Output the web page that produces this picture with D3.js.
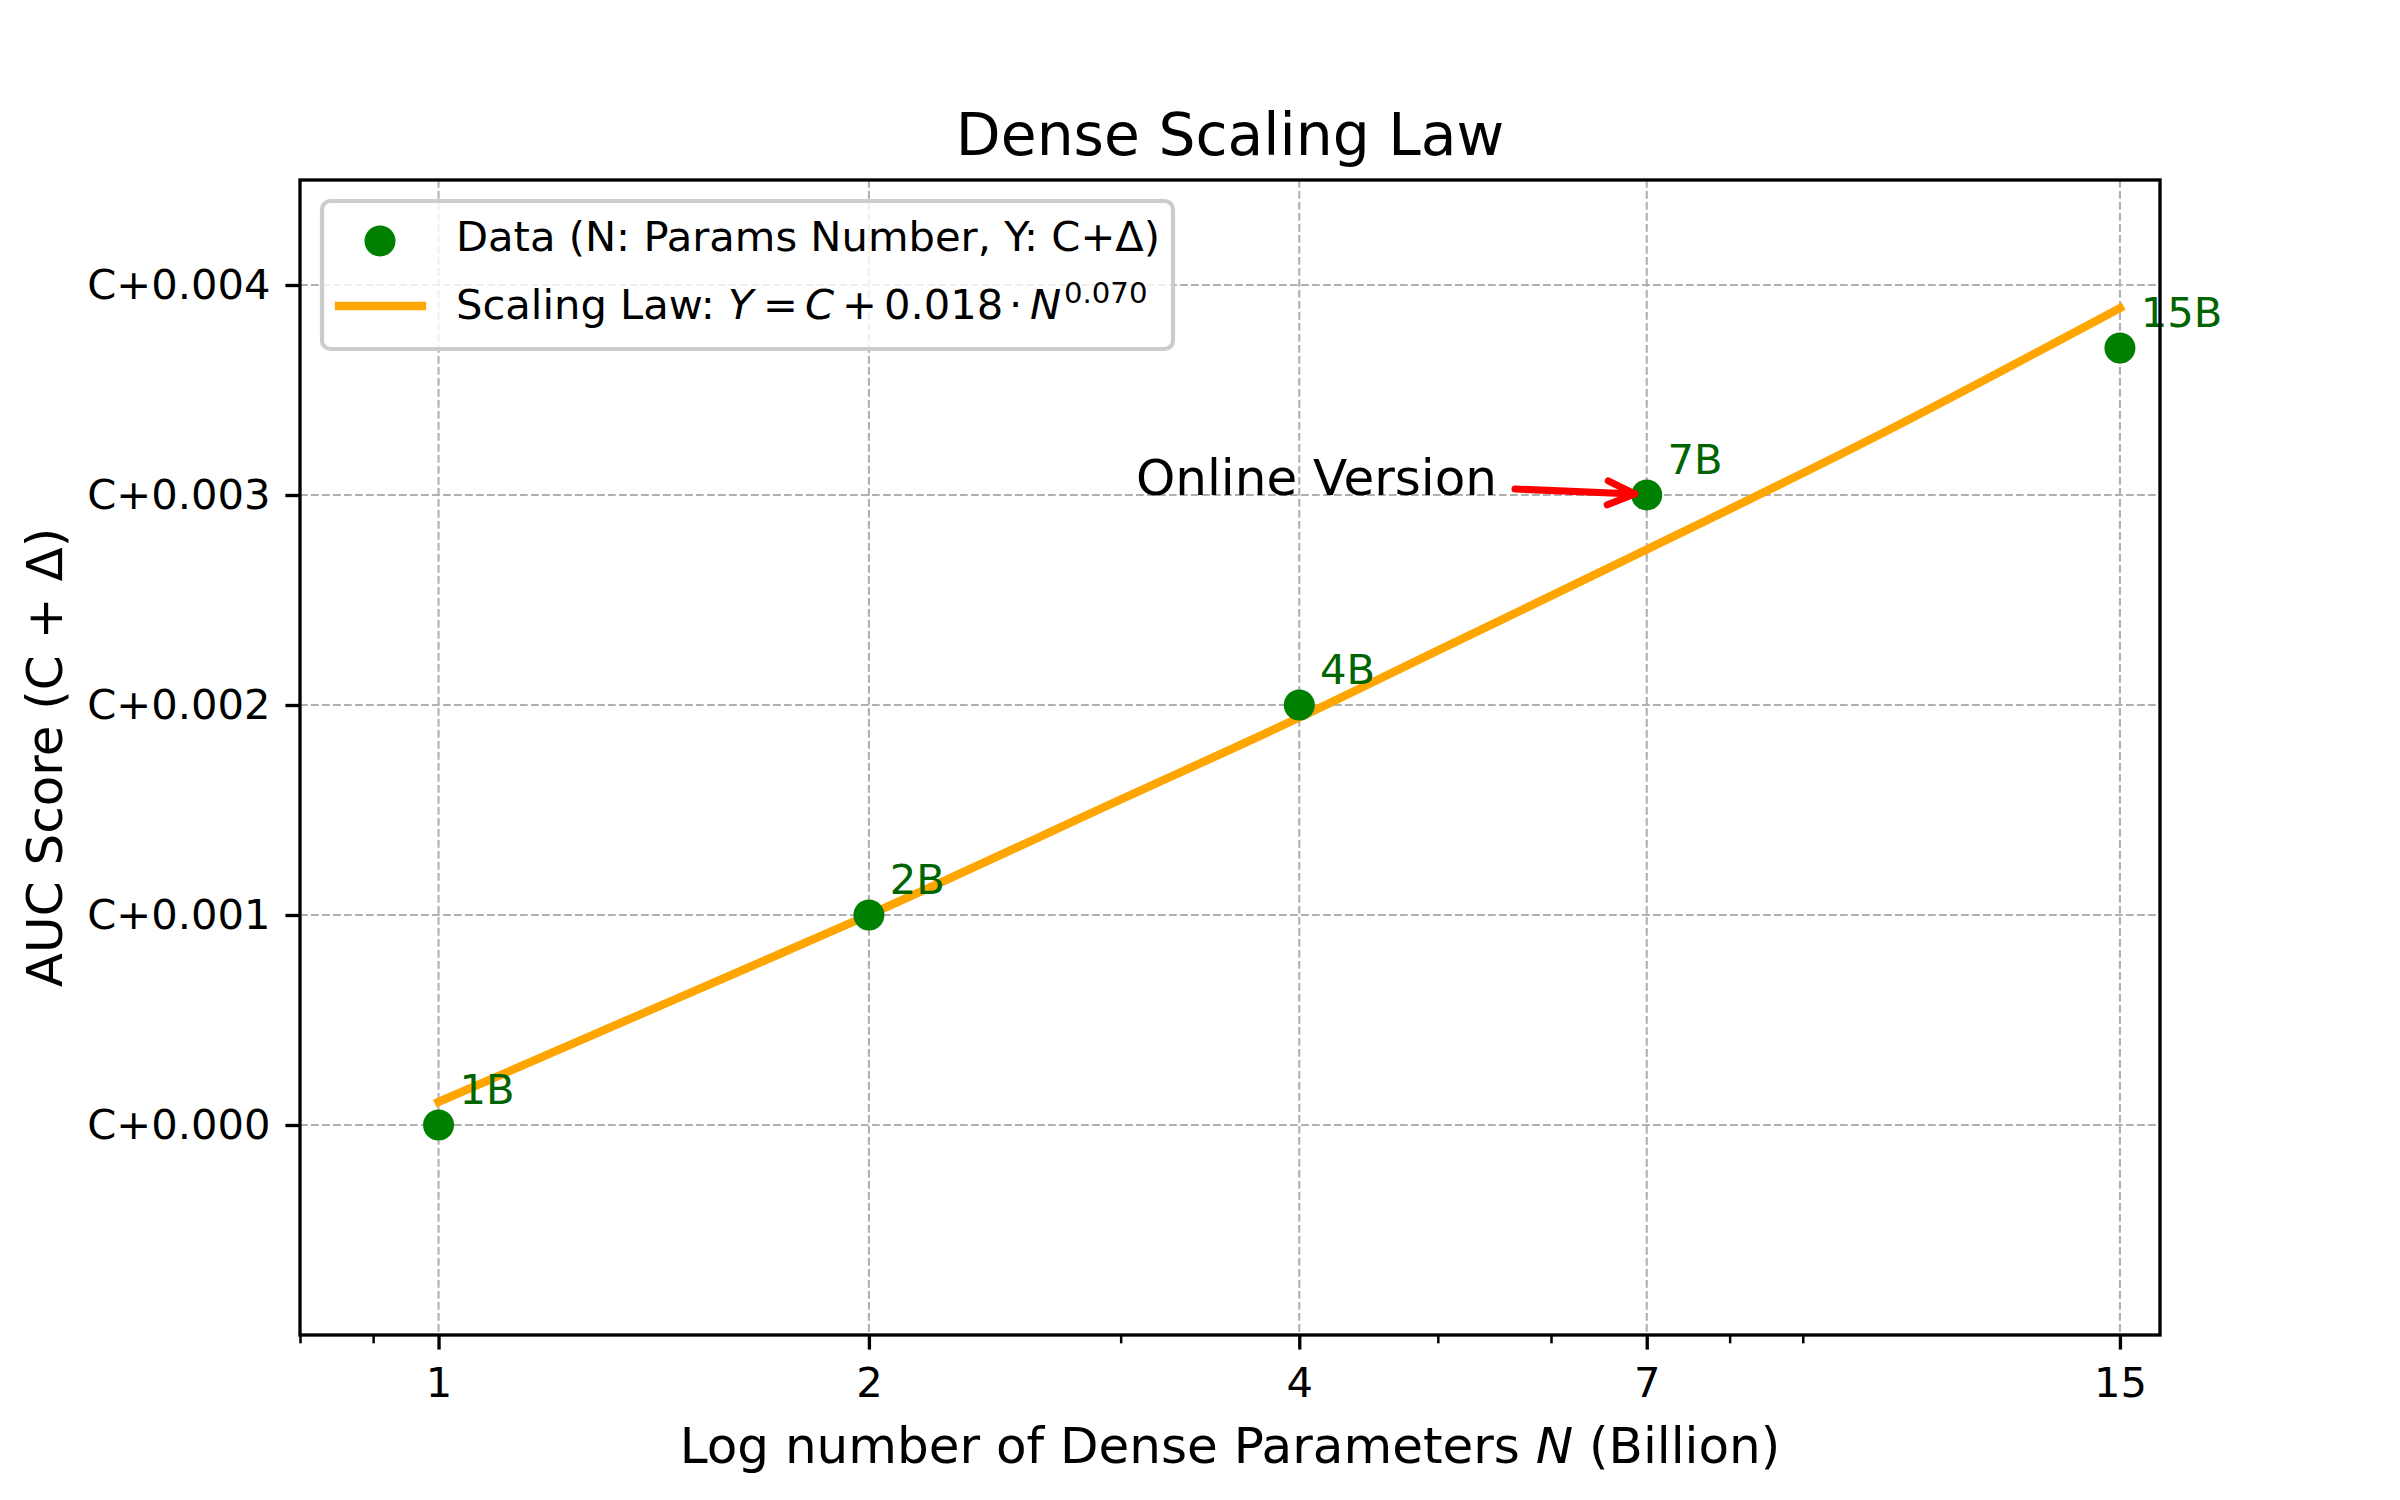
<!DOCTYPE html>
<html lang="en">
<head>
<meta charset="UTF-8"/>
<title>Dense Scaling Law</title>
<script src="https://d3js.org/d3.v7.min.js"></script>
<style>
  body { margin: 0; background: #fff; }
  text { font-family: "DejaVu Sans", sans-serif; }
</style>
</head>
<body>
<script>
// data
var paramsB = [1, 2, 4, 7, 15];
var deltaAUC = [0.0, 0.001, 0.002, 0.003, 0.0037];
var pointLabels = ["1B", "2B", "4B", "7B", "15B"];

// fitted scaling-law curve
var fitN = [1, 1.5, 2, 3, 4, 5, 7, 10, 15];
var fitDelta = [0.00011, 0.00063, 0.00100, 0.00155, 0.00194, 0.00226, 0.00274, 0.00326, 0.00389];

var xTicks = [1, 2, 4, 7, 15];
var xMinorTicks = [0.8, 0.9, 3, 5, 6, 8, 9];
var yTicks = [0, 0.001, 0.002, 0.003, 0.004];
var yTickLabels = ["C+0.000", "C+0.001", "C+0.002", "C+0.003", "C+0.004"];

var onlineNote = {text: "Online Version", n: 5.5, value: 0.003, targetN: 7, targetValue: 0.003};

var w = 2400, h = 1500;
var plotL = 300, plotR = 2160, plotT = 180, plotB = 1335;
var pt = 300 / 72;   // pixels per point

var xScale = d3.scaleLog().domain([0.8, 16]).range([plotL, plotR]);
var yScale = d3.scaleLinear().domain([-0.001, 0.0045]).range([plotB, plotT]);

var svg = d3.select("body").append("svg")
    .attr("width", w)
    .attr("height", h);

svg.append("rect").attr("width", w).attr("height", h).attr("fill", "#fff");

/* grid */
var grid = svg.append("g")
    .attr("stroke", "#b0b0b0")
    .attr("stroke-width", 2.1)
    .attr("stroke-dasharray", "7.7,3.3");

grid.selectAll(".gx")
    .data(xTicks)
    .enter().append("line")
    .attr("x1", d => xScale(d)).attr("x2", d => xScale(d))
    .attr("y1", plotT).attr("y2", plotB);

grid.selectAll(".gy")
    .data(yTicks)
    .enter().append("line")
    .attr("x1", plotL).attr("x2", plotR)
    .attr("y1", d => yScale(d)).attr("y2", d => yScale(d));

/* fitted line */
var fitLine = d3.line()
    .x(d => xScale(d))
    .y((d, i) => yScale(fitDelta[i]))
    .curve(d3.curveMonotoneX);

svg.append("path")
    .datum(fitN)
    .attr("d", fitLine)
    .attr("fill", "none")
    .attr("stroke", "#ffa500")
    .attr("stroke-width", 8.3)
    .attr("stroke-linecap", "square");

/* scatter points */
svg.selectAll("circle.pt")
    .data(paramsB)
    .enter().append("circle")
    .attr("class", "pt")
    .attr("cx", d => xScale(d))
    .attr("cy", (d, i) => yScale(deltaAUC[i]))
    .attr("r", 15.5)
    .attr("fill", "#008000");

/* point labels */
svg.selectAll("text.plab")
    .data(paramsB)
    .enter().append("text")
    .attr("class", "plab")
    .attr("x", d => xScale(d) + 5 * pt)
    .attr("y", (d, i) => yScale(deltaAUC[i]) - 5 * pt)
    .attr("font-size", 10 * pt)
    .attr("fill", "#006400")
    .text((d, i) => pointLabels[i]);

/* online version annotation */
var noteX = xScale(onlineNote.n), noteY = yScale(onlineNote.value);
svg.append("text")
    .attr("x", noteX)
    .attr("y", noteY)
    .attr("text-anchor", "end")
    .attr("font-size", 12 * pt)
    .attr("fill", "#000")
    .text(onlineNote.text);

var ax0 = noteX + 18, ay0 = noteY - 6;
var ax1 = xScale(onlineNote.targetN) - 12, ay1 = yScale(onlineNote.targetValue) - 1;
var ang = Math.atan2(ay1 - ay0, ax1 - ax0);
var headLen = 27, headW = 12;
var arrow = svg.append("g")
    .attr("stroke", "#ff0000")
    .attr("stroke-width", 7)
    .attr("stroke-linecap", "round")
    .attr("stroke-linejoin", "round")
    .attr("fill", "none");
arrow.append("line")
    .attr("x1", ax0).attr("y1", ay0)
    .attr("x2", ax1).attr("y2", ay1);
arrow.append("path")
    .attr("d",
        "M" + (ax1 - headLen * Math.cos(ang) + headW * Math.sin(ang)) + "," + (ay1 - headLen * Math.sin(ang) - headW * Math.cos(ang)) +
        "L" + ax1 + "," + ay1 +
        "L" + (ax1 - headLen * Math.cos(ang) - headW * Math.sin(ang)) + "," + (ay1 - headLen * Math.sin(ang) + headW * Math.cos(ang)));

/* axes */
var xAxis = d3.axisBottom(xScale)
    .tickValues(xTicks)
    .tickFormat(d3.format("d"))
    .tickSize(3.5 * pt)
    .tickSizeOuter(0)
    .tickPadding(17.8);

var xMinor = d3.axisBottom(xScale)
    .tickValues(xMinorTicks)
    .tickFormat("")
    .tickSize(2 * pt)
    .tickSizeOuter(0);

var yAxis = d3.axisLeft(yScale)
    .tickValues(yTicks)
    .tickFormat((d, i) => yTickLabels[i])
    .tickSize(3.5 * pt)
    .tickSizeOuter(0)
    .tickPadding(15);

var gx = svg.append("g").attr("transform", "translate(0," + plotB + ")").call(xAxis);
var gxm = svg.append("g").attr("transform", "translate(0," + plotB + ")").call(xMinor);
var gy = svg.append("g").attr("transform", "translate(" + plotL + ",0)").call(yAxis);

[gx, gxm, gy].forEach(function(g) {
    g.select(".domain").remove();
    g.selectAll(".tick line").attr("stroke", "#000").attr("stroke-width", 0.8 * pt);
    g.selectAll(".tick text").attr("font-size", 10 * pt).attr("fill", "#000")
        .attr("font-family", "DejaVu Sans, sans-serif");
});
gxm.selectAll(".tick line").attr("stroke-width", 0.6 * pt);

/* spines */
svg.append("rect")
    .attr("x", plotL).attr("y", plotT)
    .attr("width", plotR - plotL).attr("height", plotB - plotT)
    .attr("fill", "none")
    .attr("stroke", "#000")
    .attr("stroke-width", 0.8 * pt);

/* title and labels */
svg.append("text")
    .attr("x", (plotL + plotR) / 2)
    .attr("y", 155)
    .attr("text-anchor", "middle")
    .attr("font-size", 14 * pt)
    .text("Dense Scaling Law");

var xl = svg.append("text")
    .attr("x", (plotL + plotR) / 2)
    .attr("y", 1463)
    .attr("text-anchor", "middle")
    .attr("font-size", 12 * pt);
xl.append("tspan").text("Log number of Dense Parameters ");
xl.append("tspan").attr("font-style", "italic").text("N");
xl.append("tspan").text(" (Billion)");

svg.append("text")
    .attr("transform", "translate(62," + ((plotT + plotB) / 2) + ") rotate(-90)")
    .attr("text-anchor", "middle")
    .attr("font-size", 12 * pt)
    .text("AUC Score (C + \u0394)");

/* legend */
var lg = svg.append("g");
lg.append("rect")
    .attr("x", 322).attr("y", 201)
    .attr("width", 1173 - 322).attr("height", 349 - 201)
    .attr("rx", 8.3)
    .attr("fill", "#fff").attr("fill-opacity", 0.8)
    .attr("stroke", "#cccccc").attr("stroke-width", 4.2);

lg.append("circle").attr("cx", 380).attr("cy", 241).attr("r", 15.5).attr("fill", "#008000");
lg.append("text").attr("x", 456).attr("y", 251).attr("font-size", 10 * pt)
    .text("Data (N: Params Number, Y: C+\u0394)");

lg.append("line")
    .attr("x1", 339).attr("x2", 422).attr("y1", 306).attr("y2", 306)
    .attr("stroke", "#ffa500").attr("stroke-width", 8.3).attr("stroke-linecap", "square");

var lt = lg.append("text").attr("y", 319).attr("font-size", 10 * pt);
var tx = 456;
lt.append("tspan").attr("x", tx).text("Scaling Law:");
lt.append("tspan").attr("x", tx + 272).attr("font-style", "italic").text("Y");
lt.append("tspan").attr("x", tx + 307).text("=");
lt.append("tspan").attr("x", tx + 349).attr("font-style", "italic").text("C");
lt.append("tspan").attr("x", tx + 386).text("+");
lt.append("tspan").attr("x", tx + 428).text("0.018");
lt.append("tspan").attr("x", tx + 553).text("\u00b7");
lt.append("tspan").attr("x", tx + 574).attr("font-style", "italic").text("N");
lt.append("tspan").attr("x", tx + 608).attr("y", 303).attr("font-size", 7 * pt).text("0.070");
</script>
</body>
</html>
